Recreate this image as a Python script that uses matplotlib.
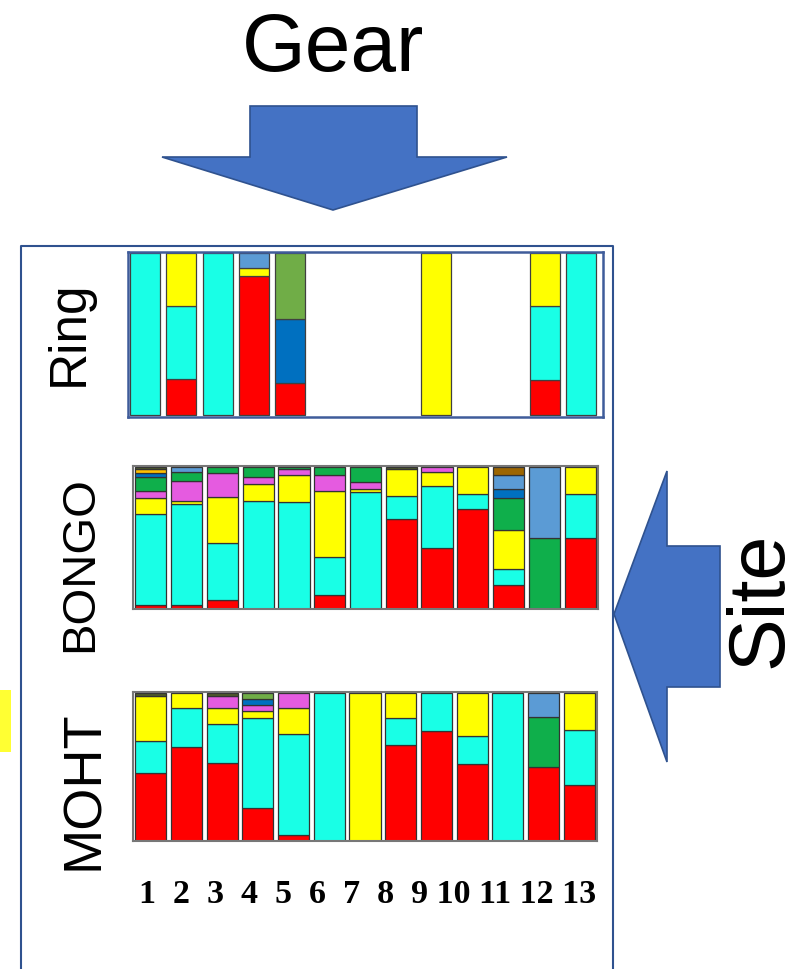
import numpy as np
import matplotlib
matplotlib.use("Agg")
import matplotlib.pyplot as plt
from matplotlib.patches import Polygon, Rectangle

W, H = 798, 970

sites = [str(i) for i in range(1, 14)]
gears = ["Ring", "BONGO", "MOHT"]

# stacking order (bottom -> top)
groups = ["red", "cyan", "yellow", "magenta", "green", "blue",
          "ltblue", "olive", "gold", "brown", "dkolive"]
colours = ["#FF0000", "#19FFE6", "#FFFF00", "#E55BE0", "#0FAF4B", "#0070C0",
           "#5B9BD5", "#70AD47", "#FFC000", "#9C6500", "#4F5B2A"]

#        red   cyan  yell  mag   grn   blue  lblu  oliv  gold  brwn  dkol
ring = [
    [0,    1,    0,    0,    0,    0,    0,    0,    0,    0,    0],
    [.225, .445, .33,  0,    0,    0,    0,    0,    0,    0,    0],
    [0,    1,    0,    0,    0,    0,    0,    0,    0,    0,    0],
    [.86,  0,    .05,  0,    0,    0,    .09,  0,    0,    0,    0],
    [.195, 0,    0,    0,    0,    .40,  0,    .405, 0,    0,    0],
    [0,    0,    0,    0,    0,    0,    0,    0,    0,    0,    0],
    [0,    0,    0,    0,    0,    0,    0,    0,    0,    0,    0],
    [0,    0,    0,    0,    0,    0,    0,    0,    0,    0,    0],
    [0,    0,    1,    0,    0,    0,    0,    0,    0,    0,    0],
    [0,    0,    0,    0,    0,    0,    0,    0,    0,    0,    0],
    [0,    0,    0,    0,    0,    0,    0,    0,    0,    0,    0],
    [.215, .455, .33,  0,    0,    0,    0,    0,    0,    0,    0],
    [0,    1,    0,    0,    0,    0,    0,    0,    0,    0,    0],
]

bongo = [
    [.03,  .64,  .11,  .05,  .10,  .025, 0,    0,    .03,  0,    .015],
    [.03,  .705, .025, .14,  .06,  0,    .04,  0,    0,    0,    0],
    [.06,  .405, .32,  .17,  .045, 0,    0,    0,    0,    0,    0],
    [0,    .76,  .12,  .045, .075, 0,    0,    0,    0,    0,    0],
    [0,    .75,  .19,  .045, .015, 0,    0,    0,    0,    0,    0],
    [.10,  .265, .465, .115, .055, 0,    0,    0,    0,    0,    0],
    [0,    .82,  .02,  .055, .105, 0,    0,    0,    0,    0,    0],
    [.635, .16,  .19,  0,    0,    0,    0,    0,    0,    0,    .015],
    [.43,  .435, .095, .04,  0,    0,    0,    0,    0,    0,    0],
    [.70,  .105, .195, 0,    0,    0,    0,    0,    0,    0,    0],
    [.17,  .11,  .275, 0,    .225, .06,  .105, 0,    0,    .055, 0],
    [0,    0,    0,    0,    .50,  0,    .50,  0,    0,    0,    0],
    [.50,  .305, .195, 0,    0,    0,    0,    0,    0,    0,    0],
]

moht = [
    [.46,  .215, .30,  0,    0,    0,    0,    0,    0,    0,    .025],
    [.635, .26,  .105, 0,    0,    0,    0,    0,    0,    0,    0],
    [.525, .265, .11,  .075, 0,    0,    0,    0,    0,    0,    .025],
    [.22,  .61,  .045, .045, 0,    .04,  0,    .04,  0,    0,    0],
    [.04,  .685, .17,  .105, 0,    0,    0,    0,    0,    0,    0],
    [0,    1,    0,    0,    0,    0,    0,    0,    0,    0,    0],
    [0,    0,    1,    0,    0,    0,    0,    0,    0,    0,    0],
    [.65,  .18,  .17,  0,    0,    0,    0,    0,    0,    0,    0],
    [.74,  .26,  0,    0,    0,    0,    0,    0,    0,    0,    0],
    [.52,  .185, .295, 0,    0,    0,    0,    0,    0,    0,    0],
    [0,    1,    0,    0,    0,    0,    0,    0,    0,    0,    0],
    [.50,  0,    0,    0,    .335, 0,    .165, 0,    0,    0,    0],
    [.375, .375, .25,  0,    0,    0,    0,    0,    0,    0,    0],
]


def rect(x0, y0, x1, y1):  # pixel box -> figure fraction
    return [x0 / W, 1 - y1 / H, (x1 - x0) / W, (y1 - y0) / H]


def stacked(ax, data, width, edge):
    vals = np.array(data, dtype=float).T
    x = np.arange(1, len(sites) + 1)
    bottom = np.zeros(len(sites))
    for g, col, v in zip(groups, colours, vals):
        m = v > 0
        if m.any():
            ax.bar(x[m], v[m], width, bottom=bottom[m], color=col,
                   edgecolor=edge, linewidth=0.9, label=g)
        bottom += v
    ax.set_xticks([])
    ax.set_yticks([])


plt.rcParams["font.family"] = ["Liberation Sans", "DejaVu Sans"]
fig = plt.figure(figsize=(W / 100, H / 100), dpi=100)

# canvas in pixel units for the decorations
bg = fig.add_axes([0, 0, 1, 1])
bg.set_xlim(0, W)
bg.set_ylim(H, 0)
bg.axis("off")

blue_fill, blue_edge = "#4472C4", "#2F528F"
gear_arrow = [(250, 107), (417, 107), (417, 158), (507, 158), (333, 211),
              (162, 158), (250, 158)]
site_arrow = [(720, 547), (720, 688), (667, 688), (667, 763), (614, 615),
              (667, 472), (667, 547)]
for pts in (gear_arrow, site_arrow):
    bg.add_patch(Polygon(pts, closed=True, facecolor=blue_fill,
                         edgecolor=blue_edge, linewidth=1.2))

bg.plot([20.5, 20.5, 613, 613], [H, 247, 247, H], color=blue_edge, lw=1.5)
bg.add_patch(Rectangle((0, 691), 11, 62, facecolor="#FFFF33", edgecolor="none"))

bg.text(333, 71, "Gear", fontsize=59, ha="center", va="baseline")
bg.text(781, 600, "Site", fontsize=57, rotation=90, rotation_mode="anchor",
        ha="center", va="baseline")
bg.text(83, 333, gears[0], fontsize=37, rotation=90, rotation_mode="anchor",
        ha="center", va="baseline")
bg.text(92, 564, gears[1], fontsize=34, rotation=90, rotation_mode="anchor",
        ha="center", va="baseline")
bg.text(98, 790, gears[2], fontsize=39, rotation=90, rotation_mode="anchor",
        ha="center", va="baseline")

numbers = "  ".join(sites[:9]) + " " + " ".join(sites[9:])
bg.text(368, 903, numbers, fontsize=24.5, fontweight="bold",
        family=["Liberation Serif", "DejaVu Serif"], ha="center", va="baseline")

# Ring panel
ax_r = fig.add_axes(rect(128, 253, 603, 418))
stacked(ax_r, ring, 0.82, "#404040")
ax_r.set_xlim(0.532, 13.606)
ax_r.set_ylim(-0.012, 1.006)
for s in ax_r.spines.values():
    s.set_color("#3F5C9A")
    s.set_linewidth(1.8)
    s.set_zorder(5)

# BONGO and MOHT panels
for data, box in ((bongo, (133, 467, 598, 610)), (moht, (133, 693, 597, 842))):
    ax = fig.add_axes(rect(*box))
    stacked(ax, data, 0.87, "#333333")
    ax.set_xlim(0.5, 13.5)
    ax.set_ylim(0, 1.005)
    for s in ax.spines.values():
        s.set_color("#777777")
        s.set_linewidth(1.5)

fig.savefig("out.png", dpi=100)
